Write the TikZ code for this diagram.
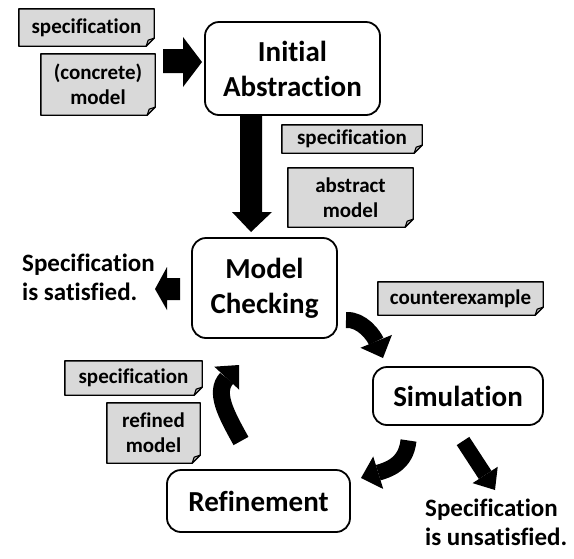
\documentclass[tikz,border=0pt]{standalone}
\usepackage{fontspec}
\setmainfont{Carlito}[Ligatures=NoCommon]
\usetikzlibrary{arrows.meta}
\pgfdeclarelayer{background}
\pgfsetlayers{background,main}

\definecolor{docgray}{HTML}{D9D9D9}

\tikzset{
  stage/.style={draw=black, line width=1.8pt, rounded corners=14pt, fill=white,
    align=center, inner sep=0pt, font=\bfseries\fontsize{29}{35}\selectfont},
  doc/.style={align=center, inner sep=0pt, font=\bfseries\fontsize{21}{25}\selectfont},
  docshape/.style={draw=black, line width=1.4pt, fill=docgray, line join=round},
  outcome/.style={align=left, inner sep=0pt, font=\bfseries\fontsize{25}{29}\selectfont},
  blockarrow/.style={fill=black, draw=none},
  bendarrow/.style={draw=black, line width=16pt,
    -{Triangle[length=18pt, width=34pt, line width=0pt]}},
}

% folded-corner sheet behind a document node
\newcommand\foldsheet[1]{%
  \begin{pgfonlayer}{background}
    \draw[docshape] (#1.north west) -- (#1.north east) -- ([yshift=8pt]#1.south east)
      -- ([xshift=-8pt]#1.south east) -- (#1.south west) -- cycle;
    \draw[line width=1.2pt, line join=round] ([yshift=8pt]#1.south east)
      -- ([xshift=-6pt,yshift=6pt]#1.south east) -- ([xshift=-8pt]#1.south east);
  \end{pgfonlayer}}

\begin{document}
\begin{tikzpicture}[x=1pt, y=-1pt]
\useasboundingbox (0,0) rectangle (574,558);

% process stages
\node[stage, minimum width=175pt, minimum height=93pt] (init) at (292.5,68.5) {Initial\\Abstraction};
\node[stage, minimum width=145pt, minimum height=100pt] (mc) at (264.5,288) {Model\\Checking};
\node[stage, minimum width=170pt, minimum height=58pt] (sim) at (458,396) {Simulation};
\node[stage, minimum width=183pt, minimum height=62pt] (ref) at (258.5,501) {Refinement};

% documents passed between stages
\node[doc, minimum width=135pt, minimum height=37pt] (spec1) at (86.5,27.5) {specification};
\node[doc, minimum width=114pt, minimum height=61pt] (conc) at (98,84.5) {(concrete)\\model};
\node[doc, minimum width=140pt, minimum height=28pt] (spec2) at (352,139) {specification};
\node[doc, minimum width=125pt, minimum height=59pt] (absm) at (350.5,197.5) {abstract\\model};
\node[doc, minimum width=165pt, minimum height=33pt] (cex) at (460.5,298.5) {counterexample};
\node[doc, minimum width=137pt, minimum height=34pt] (spec3) at (133.5,378) {specification};
\node[doc, minimum width=93pt, minimum height=60pt] (refm) at (153.5,433) {refined\\model};
\foldsheet{spec1}\foldsheet{conc}\foldsheet{spec2}\foldsheet{absm}
\foldsheet{cex}\foldsheet{spec3}\foldsheet{refm}

% outcomes
\node[outcome, anchor=west] (sat) at (22,277) {Specification\\is satisfied.};
\node[outcome, anchor=west] (unsat) at (425,522) {Specification\\is unsatisfied.};

% straight block arrows
\fill[blockarrow] (163,49) -- (183,49) -- (183,37) -- (202,62) -- (183,87) -- (183,73) -- (163,73) -- cycle;
\fill[blockarrow] (240,115) -- (262,115) -- (262,212) -- (272,212) -- (251,232) -- (232,212) -- (240,212) -- cycle;
\fill[blockarrow] (180,278) -- (167,278) -- (167,267) -- (155,289) -- (167,310) -- (167,300) -- (180,300) -- cycle;

% bent block arrows
\coordinate (a1s) at (346,320); \coordinate (a1e) at (383,358);
\draw[bendarrow] (a1s) .. controls (362,319) and (374,336) .. (a1e);
\coordinate (a2s) at (408.5,440.5); \coordinate (a2e) at (361,478);
\draw[bendarrow] (a2s) .. controls (406,465) and (387,470) .. (a2e);
\coordinate (a3s) at (241,441); \coordinate (a3e) at (239,365);
\draw[bendarrow, line width=17pt] (a3s) .. controls (226,414) and (214,392) .. (a3e);
\coordinate (a4s) at (463,441); \coordinate (a4e) at (495,490);
\draw[bendarrow, line width=15pt, -{Triangle[length=18pt, width=30pt, line width=0pt]}] (a4s) -- (a4e);
\end{tikzpicture}
\end{document}
